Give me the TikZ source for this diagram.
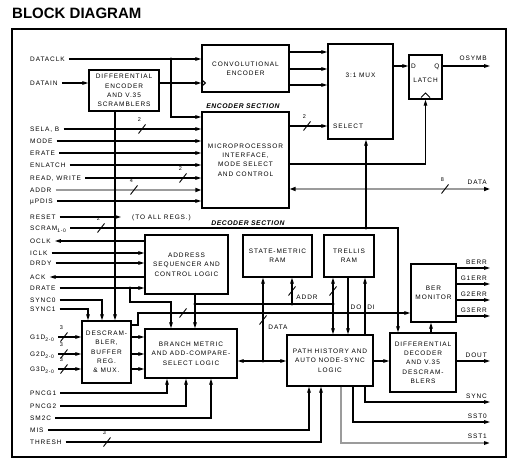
\documentclass[tikz,border=0pt]{standalone}
\usepackage{fontspec}
\usetikzlibrary{arrows.meta}
\newfontfamily\lblfam[LetterSpace=14]{Liberation Sans}
\newfontfamily\secfam[LetterSpace=8]{Liberation Sans}
\newfontfamily\titlefam{Liberation Sans}
\newcommand\dlabel{\lblfam\fontsize{6.5}{9.3}\selectfont}
\newcommand\dnum{\lblfam\fontsize{5.5}{6}\selectfont}
\newcommand\dsec{\secfam\bfseries\itshape\fontsize{6.8}{8}\selectfont}
\newcommand\dtitle{\titlefam\bfseries\fontsize{15}{15}\selectfont}
\newcommand\dsub[1]{\raisebox{-1.8pt}{\lblfam\fontsize{5}{5}\selectfont #1}}
\definecolor{busgray}{RGB}{155,155,155}
\tikzset{
  ln/.style={line width=1.1pt},
  arr/.style={line width=1.1pt, -{Triangle[length=6pt,width=3.5pt]}},
  arrtwo/.style={line width=1.1pt, {Triangle[length=6pt,width=3.5pt]}-{Triangle[length=6pt,width=3.5pt]}},
  bus/.style={line width=2.4pt, draw=busgray},
  box/.style={draw, line width=1.2pt, inner sep=0pt, align=center, font=\dlabel},
  lb/.style={anchor=west, font=\dlabel, inner sep=1pt, text height=4.7pt, text depth=0pt},
  rl/.style={anchor=east, font=\dlabel, inner sep=1pt, text height=4.7pt, text depth=0pt},
  tx/.style={font=\dlabel, inner sep=1pt, text height=4.7pt, text depth=0pt},
  dot/.style={circle, fill, inner sep=0pt, minimum size=3.2pt},
  pics/bslash/.style={code={
    \draw[line width=0.9pt] (-3.5,4.5) -- (3.5,-4.5);
    \node[font=\dnum, inner sep=0pt] (-n) at (-2.5,-9) {#1};}},
}
\begin{document}
\begin{tikzpicture}[x=1pt,y=-1pt]
\fill[white] (0,0) rectangle (522,465);
\useasboundingbox (0,0) rectangle (522,465);

\node[anchor=west, font=\dtitle, inner sep=0pt] (title) at (12,13) {BLOCK DIAGRAM};
\draw[line width=1.3pt] (12,29) rectangle (506,457);

% ---------- boxes
\node[box, minimum width=87pt, minimum height=47pt] (conv) at (245.5,68.5) {CONVOLUTIONAL\\ENCODER};
\node[box, minimum width=65pt, minimum height=95pt] (mux) at (360.5,91.5) {};
\node[tx] (muxt) at (360.5,75) {3:1 MUX};
\node[tx, anchor=west] (selt) at (332,126) {SELECT};
\node[box, minimum width=33pt, minimum height=44pt] (latch) at (425.5,77) {};
\node[tx] (ld) at (413.5,66) {D};
\node[tx] (lq) at (437,66) {Q};
\node[tx] (lt) at (425.5,80) {LATCH};
\node[box, minimum width=70pt, minimum height=41pt] (denc) at (124,90.5) {DIFFERENTIAL\\ENCODER\\AND V.35\\SCRAMBLERS};
\node[box, minimum width=87pt, minimum height=96pt] (micro) at (245.5,160) {MICROPROCESSOR\\INTERFACE,\\MODE SELECT\\AND CONTROL};
\node[box, minimum width=83pt, minimum height=59pt] (addr) at (186.5,264.5) {ADDRESS\\SEQUENCER AND\\CONTROL LOGIC};
\node[box, minimum width=69pt, minimum height=42pt] (state) at (277.5,256) {STATE-METRIC\\RAM};
\node[box, minimum width=50pt, minimum height=42pt] (trellis) at (349,256) {TRELLIS\\RAM};
\node[box, minimum width=45pt, minimum height=58pt] (ber) at (433.5,293) {BER\\MONITOR};
\node[box, minimum width=49pt, minimum height=62pt] (desc) at (106.5,352) {DESCRAM-\\BLER,\\BUFFER\\REG.\\\& MUX.};
\node[box, minimum width=92pt, minimum height=49pt] (bmu) at (191,353.5) {BRANCH METRIC\\AND ADD-COMPARE-\\SELECT LOGIC};
\node[box, minimum width=86pt, minimum height=51pt] (path) at (330,360.5) {PATH HISTORY AND\\AUTO NODE-SYNC\\LOGIC};
\node[box, minimum width=66pt, minimum height=59pt] (ddec) at (423,362.5) {DIFFERENTIAL\\DECODER\\AND V.35\\DESCRAM-\\BLERS};

\node[font=\dsec, inner sep=0pt] (encsec) at (243,106) {ENCODER SECTION};
\node[font=\dsec, inner sep=0pt] (decsec) at (248,223) {DECODER SECTION};

% ---------- left labels
\node[lb] (lDCLK) at (29,59) {DATACLK};
\node[lb] (lDIN) at (29,83) {DATAIN};
\node[lb] (lSEL) at (29,129) {SELA, B};
\node[lb] (lMODE) at (29,141) {MODE};
\node[lb] (lERATE) at (29,153) {ERATE};
\node[lb] (lENL) at (29,165) {ENLATCH};
\node[lb] (lRW) at (29,178) {READ, WRITE};
\node[lb] (lADDR) at (29,190) {ADDR};
\node[lb] (lUPD) at (29,201) {µPDIS};
\node[lb] (lRST) at (29,217) {RESET};
\node[lb] (lSCR) at (29,228) {SCRAM\dsub{1-0}};
\node[lb] (lOCLK) at (29,241) {OCLK};
\node[lb] (lICLK) at (29,253) {ICLK};
\node[lb] (lDRDY) at (29,263) {DRDY};
\node[lb] (lACK) at (29,277) {ACK};
\node[lb] (lDRATE) at (29,288) {DRATE};
\node[lb] (lS0) at (29,300) {SYNC0};
\node[lb] (lS1) at (29,309) {SYNC1};
\node[lb] (lG1) at (29,337) {G1D\dsub{2-0}};
\node[lb] (lG2) at (29,354) {G2D\dsub{2-0}};
\node[lb] (lG3) at (29,369) {G3D\dsub{2-0}};
\node[lb] (lP1) at (29,393) {PNCG1};
\node[lb] (lP2) at (29,406) {PNCG2};
\node[lb] (lSM) at (29,418) {SM2C};
\node[lb] (lMIS) at (29,430) {MIS};
\node[lb] (lTH) at (29,442) {THRESH};

% ---------- right labels and end points
\node[rl] (tOSYMB) at (488,58) {OSYMB};
\coordinate (oOSYMB) at (490,66);
\node[rl] (tDATA) at (488,182) {DATA};
\coordinate (oDATA) at (490,189);
\node[rl] (tBERR) at (488,262) {BERR};
\coordinate (oBERR) at (490,268);
\node[rl] (tG1) at (488,278) {G1ERR};
\coordinate (oG1) at (490,284);
\node[rl] (tG2) at (488,294) {G2ERR};
\coordinate (oG2) at (490,300);
\node[rl] (tG3) at (488,310) {G3ERR};
\coordinate (oG3) at (490,316);
\node[rl] (tDOUT) at (488,355) {DOUT};
\coordinate (oDOUT) at (490,361);
\node[rl] (tSYNC) at (488,396) {SYNC};
\coordinate (oSYNC) at (490,402);
\node[rl] (tSST0) at (488,416) {SST0};
\coordinate (oSST0) at (490,422);
\node[rl] (tSST1) at (488,436) {SST1};
\coordinate (oSST1) at (490,443);

% ---------- encoder section connectors
\draw[arr] ([xshift=3pt]lDCLK.east) -- (lDCLK.east -| conv.west);
\node[dot] (dclk) at (171,59) {};
\draw[arr] (dclk.center) -- (171,117) -- (micro.west |- 171,117);
\draw[arr] ([xshift=3pt]lDIN.east) -- (lDIN.east -| denc.west);
\draw[arr] (denc.east |- 0,83) -- (conv.west |- 0,83);
\draw[ln] (conv.west |- 0,79.5) -- ++(4,3.5) -- ++(-4,3.5);
\foreach \yy in {52,69,85} \draw[arr] (conv.east |- 0,\yy) -- (mux.west |- 0,\yy);
\draw[arr] (mux.east |- 0,66) -- (latch.west |- 0,66);
\draw[arr] (latch.east |- 0,66) -- (oOSYMB);
\draw[line width=0.9pt] (421,97.5) -- (425.5,93) -- (430,97.5);

\foreach \n in {lSEL,lMODE,lERATE,lENL,lRW,lUPD}
  \draw[arr] ([xshift=3pt]\n.east) -- (\n.east -| micro.west);
\draw[bus, -{Triangle[length=6pt,width=4pt,color=black]}] ([xshift=3pt]lADDR.east) -- (lADDR.east -| micro.west);
\pic (s1) at (142,129) {bslash=2};
\pic (s2) at (183,178) {bslash=2};
\pic (s3) at (134,190) {bslash=4};

\draw[arr] (micro.east |- 0,126) -- (mux.west |- 0,126);
\pic (s4) at (307,126) {bslash=2};
\draw[bus, {Triangle[length=6pt,width=4pt,color=black]}-{Triangle[length=6pt,width=4pt,color=black]}] (micro.east |- 0,189) -- (oDATA);
\pic (s5) at (445,189) {bslash=8};
\draw[arr] (micro.east |- 0,164) -- (latch.south |- 0,164) -- (latch.south);

\node[lb] (toall) at (131,217) {(TO ALL REGS.)};
\draw[arr] ([xshift=3pt]lRST.east) -- ([xshift=-10pt]toall.west);

% SCRAM
\coordinate (scrR) at (398,228);
\draw[arr] ([xshift=3pt]lSCR.east) -- (scrR) -- (scrR |- ddec.north);
\pic (s6) at (101,228) {bslash=2};
\node[dot] (dS1) at (115,228) {};
\node[dot] (dS2) at (366,228) {};
\draw[arr] (denc.south -| 115,0) -- (desc.north -| 115,0);
\draw[arr] (dS2.center) -- (dS2.center |- mux.south);

% ---------- decoder section connectors
\draw[arr] (lOCLK.east -| addr.west) -- ([xshift=3pt]lOCLK.east);
\draw[arr] ([xshift=3pt]lICLK.east) -- (lICLK.east -| addr.west);
\draw[arr] ([xshift=3pt]lDRDY.east) -- (lDRDY.east -| addr.west);
\draw[arr] (lACK.east -| addr.west) -- ([xshift=3pt]lACK.east);
\draw[arr] ([xshift=3pt]lDRATE.east) -- (lDRATE.east -| addr.west);
\node[dot] (dDR) at (130,288) {};
\draw[arr] (dDR.center) -- (130,302) -- (171,302) -- (bmu.north -| 171,0);
\draw[arr] ([xshift=3pt]lS0.east) -| (desc.north -| 102,0);
\draw[arr] ([xshift=3pt]lS1.east) -| (desc.north -| 88,0);
\foreach \n in {lG1,lG2,lG3}
  \draw[arr] ([xshift=3pt]\n.east) -- (\n.east -| desc.west);
\pic (s7) at (64,337) {bslash=3};
\pic (s8) at (64,354) {bslash=3};
\pic (s9) at (64,369) {bslash=3};
\foreach \yy in {337,354,369} \draw[arr] (desc.east |- 0,\yy) -- (bmu.west |- 0,\yy);

\draw[arr] (desc.east |- 0,325) -- (138,325) -- (138,313) -- (ber.west |- 0,313);
\pic (s10) at (183,313) {bslash=};

\draw[arr] (addr.south -| 195,0) -- (bmu.north -| 195,0);
\node[dot] (dA1) at (195,304) {};
\node[dot] (dA2) at (292,304) {};
\node[dot] (dA3) at (333,304) {};
\draw[ln] (dA1.center) -- (dA3.center);
\draw[arr] (dA2.center) -- (dA2.center |- state.south);
\pic (s11) at (292,291) {bslash=};
\node[tx] (tADDR) at (307,297) {ADDR};
\draw[arr] (dA3.center) -- (dA3.center |- trellis.south);
\draw[arr] (dA3.center) -- (dA3.center |- path.north);
\pic (s12) at (333,291) {bslash=};
\draw[arr] (trellis.south -| 348,0) -- (path.north -| 348,0);
\draw[arr] (path.north -| 365,0) -- (trellis.south -| 365,0);
\node[tx] (tDO) at (356,307) {DO};
\node[tx] (tDI) at (371,307) {DI};

\node[dot] (dD) at (263,361) {};
\draw[arr] (dD.center) -- (dD.center |- state.south);
\pic (s13) at (263,320) {bslash=};
\node[tx] (tDATA2) at (278,327) {DATA};
\draw[arrtwo] (bmu.east |- 0,361) -- (path.west |- 0,361);
\draw[arr] (path.east |- 0,361) -- (ddec.west |- 0,361);
\draw[arr] (ddec.east |- 0,361) -- (oDOUT);
\draw[arr] (ddec.north -| 431,0) -- (ber.south -| 431,0);
\foreach \o in {oBERR,oG1,oG2,oG3} \draw[arr] (ber.east |- \o) -- (\o);

\draw[arr] ([xshift=3pt]lP1.east) -| (bmu.south -| 167,0);
\draw[arr] ([xshift=3pt]lP2.east) -| (bmu.south -| 186,0);
\draw[arr] ([xshift=3pt]lSM.east) -| (bmu.south -| 211,0);
\draw[arr] ([xshift=3pt]lMIS.east) -| (path.south -| 309,0);
\draw[arr] ([xshift=3pt]lTH.east) -| (path.south -| 321,0);
\pic (s14) at (107,442) {bslash=3};

\draw[arr] (path.south -| 365,0) |- (oSYNC);
\draw[arr] (path.south -| 353,0) |- (oSST0);
\draw[line width=1.5pt, draw=busgray, -{Triangle[length=6pt,width=3.5pt,color=black]}] (path.south -| 341,0) |- (oSST1);
\end{tikzpicture}
\end{document}
